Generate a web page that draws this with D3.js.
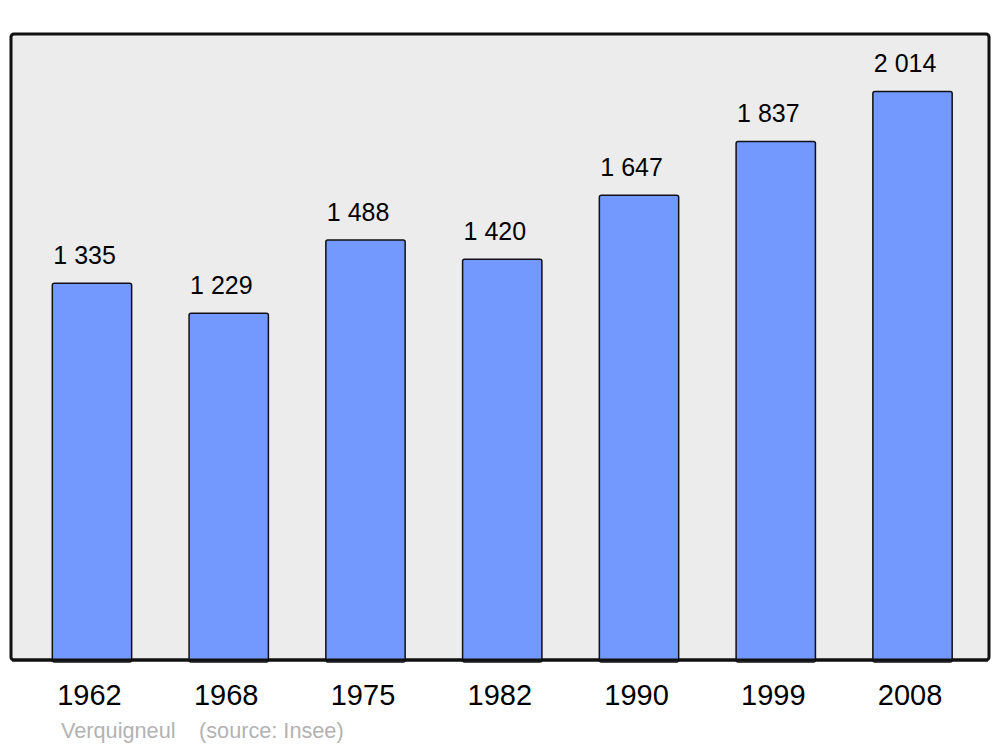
<!DOCTYPE html>
<html><head><meta charset="utf-8">
<script src="https://cdn.jsdelivr.net/npm/d3@7"></script>
<style>body{margin:0;background:#fff}svg{display:block}</style>
</head><body>
<script>
const years = ["1962","1968","1975","1982","1990","1999","2008"];
const population = [1335,1229,1488,1420,1647,1837,2014];
const valueLabels = ["1 335","1 229","1 488","1 420","1 647","1 837","2 014"];
const commune = "Verquigneul";
const source = "(source: Insee)";

const W=1000,H=747;
const svg=d3.select("body").append("svg").attr("width",W).attr("height",H);
const font="Liberation Sans, Arial, sans-serif";

const frame={x0:11,y0:34,x1:989,y1:660};
svg.append("rect").attr("x",frame.x0).attr("y",frame.y0)
  .attr("width",frame.x1-frame.x0).attr("height",frame.y1-frame.y0)
  .attr("rx",3).attr("fill","#ececec").attr("stroke","#111").attr("stroke-width",3);

const x=d3.scaleBand().domain(years).range([23.6,980.9]).paddingInner(0.42).paddingOuter(0.21);
const y=d3.scaleLinear().domain([0,2218]).range([frame.y1,frame.y0]);

const data=years.map((yr,i)=>({yr,v:population[i],lab:valueLabels[i]}));

svg.selectAll("rect.bar").data(data).enter().append("rect").attr("class","bar")
  .attr("x",d=>x(d.yr)).attr("y",d=>y(d.v))
  .attr("width",x.bandwidth()).attr("height",d=>y(0)-y(d.v)+2)
  .attr("rx",2).attr("fill","#7399ff").attr("stroke","#111").attr("stroke-width",1.5);

svg.append("line").attr("x1",frame.x0+1).attr("x2",frame.x1-1).attr("y1",frame.y1).attr("y2",frame.y1)
  .attr("stroke","#111").attr("stroke-width",3);

svg.selectAll("text.val").data(data).enter().append("text").attr("class","val")
  .attr("x",d=>x(d.yr)+1).attr("y",d=>y(d.v)-19.5)
  .attr("text-anchor","start").attr("font-family",font).attr("font-size",25).attr("fill","#000")
  .text(d=>d.lab);

const xAxis=d3.axisBottom(x).tickSize(0).tickPadding(0);
const gx=svg.append("g").attr("transform",`translate(-2.5,${frame.y1})`).call(xAxis);
gx.select(".domain").remove();
gx.selectAll("text").attr("font-family",font).attr("font-size",29).attr("fill","#000").attr("dy",0).attr("y",45);

svg.append("text").attr("x",61).attr("y",738).attr("font-family",font).attr("font-size",21.7).attr("fill","#b3b3b3")
  .text(commune);
svg.append("text").attr("x",199).attr("y",738).attr("font-family",font).attr("font-size",21.7).attr("fill","#b3b3b3")
  .text(source);
</script>
</body></html>
